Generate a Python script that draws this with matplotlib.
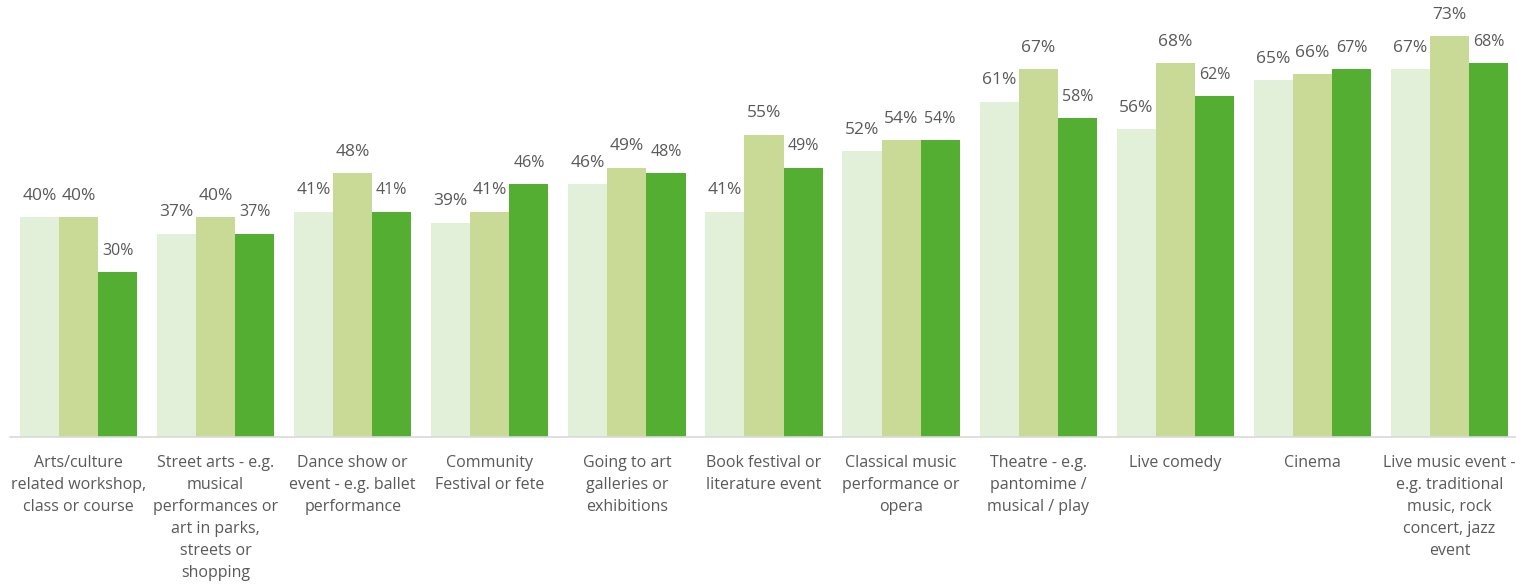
import matplotlib.pyplot as plt
import numpy as np

categories = [
    'Arts/culture\nrelated workshop,\nclass or course',
    'Street arts - e.g.\nmusical\nperformances or\nart in parks,\nstreets or\nshopping',
    'Dance show or\nevent - e.g. ballet\nperformance',
    'Community\nFestival or fete',
    'Going to art\ngalleries or\nexhibitions',
    'Book festival or\nliterature event',
    'Classical music\nperformance or\nopera',
    'Theatre - e.g.\npantomime /\nmusical / play',
    'Live comedy',
    'Cinema',
    'Live music event -\ne.g. traditional\nmusic, rock\nconcert, jazz\nevent',
]
series1 = [40, 37, 41, 39, 46, 41, 52, 61, 56, 65, 67]
series2 = [40, 40, 48, 41, 49, 55, 54, 67, 68, 66, 73]
series3 = [30, 37, 41, 46, 48, 49, 54, 58, 62, 67, 68]

colors = ['#E2F0D9', '#C9D996', '#53AE32']
txt = '#595959'
plt.rcParams['font.family'] = ['Open Sans', 'DejaVu Sans']

fig = plt.figure(figsize=(15.16, 5.86), dpi=100)
ax = fig.add_axes([10 / 1516, 149 / 586, 1508 / 1516, 437 / 586])

x = np.arange(len(categories))
w = 0.285
for k, (vals, c) in enumerate(zip([series1, series2, series3], colors)):
    pos = x + (k - 1) * w
    ax.bar(pos, vals, width=w, color=c, edgecolor='none')
    for p, v in zip(pos, vals):
        ax.text(p, v + 2.4, f'{v}%', ha='center', va='bottom',
                fontsize=12.5 if k < 2 else 11.5, color=txt)

ax.set_xlim(-0.5, len(categories) - 0.5)
ax.set_ylim(0, 79.5)
ax.set_yticks([])
ax.set_xticks(x)
ax.set_xticklabels(categories, fontsize=11.5, color=txt, linespacing=1.5)
ax.tick_params(axis='x', length=0, pad=13)
for s in ['top', 'left', 'right']:
    ax.spines[s].set_visible(False)
ax.spines['bottom'].set_color('#D9D9D9')
ax.spines['bottom'].set_linewidth(1.2)

fig.savefig('out.png', dpi=100)
